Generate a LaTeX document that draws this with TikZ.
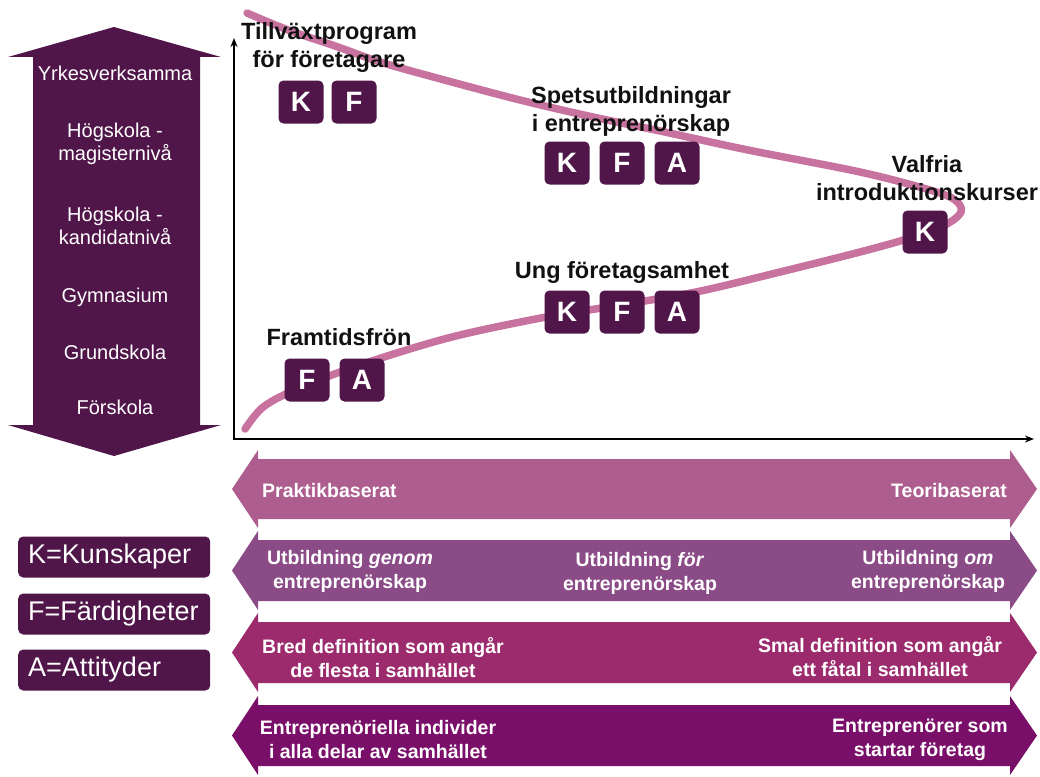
\documentclass[tikz,border=0pt]{standalone}
\usepackage{fontspec}
\setmainfont{Liberation Sans}
\usetikzlibrary{arrows.meta}
\definecolor{dark}{HTML}{50164A}
\definecolor{curvec}{HTML}{C8739F}
\definecolor{bandA}{HTML}{AE5E8E}
\definecolor{bandB}{HTML}{8A4B87}
\definecolor{bandC}{HTML}{9C2B6D}
\definecolor{bandD}{HTML}{7A0F6A}
\definecolor{labelc}{HTML}{111111}
\newcommand{\lblfont}{\fontsize{23.5}{28}\selectfont\bfseries}
\newcommand{\boxfont}{\fontsize{28}{30}\selectfont\bfseries}
\newcommand{\bandfont}{\fontsize{19.5}{24}\selectfont\bfseries}
\newcommand{\levelfont}{\fontsize{20}{22}\selectfont}
\newcommand{\legfont}{\fontsize{27}{30}\selectfont}
\newcommand{\bandshape}[3]{%
  \fill[#3] (232,{(#1+#2)/2}) -- (258,{#1-9}) -- (258,#1) -- (1010,#1) -- (1010,{#1-9})
    -- (1037,{(#1+#2)/2}) -- (1010,{#2+9}) -- (1010,#2) -- (258,#2) -- (258,{#2+9}) -- cycle;}
\tikzset{
  kbox/.style={fill=dark, rounded corners=5pt, minimum width=45pt, minimum height=43pt,
    inner sep=0pt, text=white, font=\boxfont},
  lbl/.style={text=labelc, font=\lblfont, align=center, inner sep=0pt},
  bandtxt/.style={text=white, font=\bandfont, inner sep=0pt},
  level/.style={text=white, font=\levelfont, align=center, inner sep=0pt},
  legbox/.style={fill=dark, rounded corners=5pt, minimum width=192pt, minimum height=41pt,
    inner sep=0pt, text=white, font=\legfont, anchor=west, text width=180pt, align=left},
  axis/.style={line width=1.4pt, -{Stealth[length=9pt,width=7pt]}},
  curve/.style={curvec, line width=7.5pt, line cap=round},
}
\begin{document}
\begin{tikzpicture}[x=1pt,y=-1pt]
\useasboundingbox (0,0) rectangle (1040,776);
\fill[white] (0,0) rectangle (1040,776);

% left double arrow
\fill[dark] (114,27) -- (221,57) -- (200,57) -- (200,425) -- (221,425) -- (114,456)
  -- (8,425) -- (33,425) -- (33,57) -- (8,57) -- cycle;
\node[level] (l1) at (115,73) {Yrkesverksamma};
\node[level] (l2) at (115,144) {Högskola -\\[1pt]magisternivå};
\node[level] (l3) at (115,226) {Högskola -\\[1pt]kandidatnivå};
\node[level] (l4) at (115,297) {Gymnasium};
\node[level] (l5) at (115,352) {Grundskola};
\node[level] (l6) at (115,407) {Förskola};

% axes
\coordinate (O) at (234,439);
\coordinate (Ytop) at (234,38);
\coordinate (Xend) at (1034,439);
\draw[axis] ([yshift=-0.7pt]O) -- (Ytop);
\draw[axis] ([xshift=-0.7pt]O) -- (Xend);

% curve
\draw[curve] plot[smooth, tension=0.55] coordinates {
 (245,429) (262,408) (290,392) (340,372) (400,352) (460,335) (541,318) (620,305)
 (696,292) (780,272) (860,252) (910,238) (945,225) (961,212) (955,200) (930,190)
 (860,172) (748,150) (660,131) (593,117) (520,100) (437,78) (380,62) (338,47) (288,30) (247,13)};

% labels
\node[lbl] (t1) at (329,47) {Tillväxtprogram\\för företagare};
\node[lbl] (t2) at (631,111) {Spetsutbildningar\\i entreprenörskap};
\node[lbl] (t3) at (927,178) {Valfria\\introduktionskurser};
\node[lbl] (t4) at (622,272) {Ung företagsamhet};
\node[lbl] (t5) at (339,337) {Framtidsfrön};

% boxes
\node[kbox] (b1k) at (301,102) {K};
\node[kbox] (b1f) at (354,102) {F};
\node[kbox] (b2k) at (567,163) {K};
\node[kbox] (b2f) at (622,163) {F};
\node[kbox] (b2a) at (677,163) {A};
\node[kbox] (b3k) at (925,232) {K};
\node[kbox] (b4k) at (567,312) {K};
\node[kbox] (b4f) at (622,312) {F};
\node[kbox] (b4a) at (677,312) {A};
\node[kbox] (b5f) at (307,380) {F};
\node[kbox] (b5a) at (362,380) {A};

% bands
\bandshape{459}{519}{bandA}
\bandshape{540}{601}{bandB}
\bandshape{622}{683}{bandC}
\bandshape{705}{766}{bandD}

\node[bandtxt, anchor=west] (p1) at (262,491) {Praktikbaserat};
\node[bandtxt, anchor=east] (p2) at (1007,491) {Teoribaserat};

\node[bandtxt, align=center] (u1) at (350,571) {Utbildning \textit{genom}\\entreprenörskap};
\node[bandtxt, align=center] (u2) at (640,573) {Utbildning \textit{för}\\entreprenörskap};
\node[bandtxt, align=center] (u3) at (928,571) {Utbildning \textit{om}\\entreprenörskap};

\node[bandtxt, align=center] (d1) at (383,658) {Bred definition som angår\\de flesta i samhället};
\node[bandtxt, align=center] (d2) at (880,657) {Smal definition som angår\\ett fåtal i samhället};

\node[bandtxt, align=center] (e1) at (378,740) {Entreprenöriella individer\\i alla delar av samhället};
\node[bandtxt, align=center] (e2) at (920,740) {Entreprenörer som\\startar företag};

% legend
\node[legbox] (kk) at (18,557) {\hspace*{4pt}K=Kunskaper};
\node[legbox] (ff) at (18,614) {\hspace*{4pt}F=Färdigheter};
\node[legbox] (aa) at (18,670) {\hspace*{4pt}A=Attityder};
\end{tikzpicture}
\end{document}
